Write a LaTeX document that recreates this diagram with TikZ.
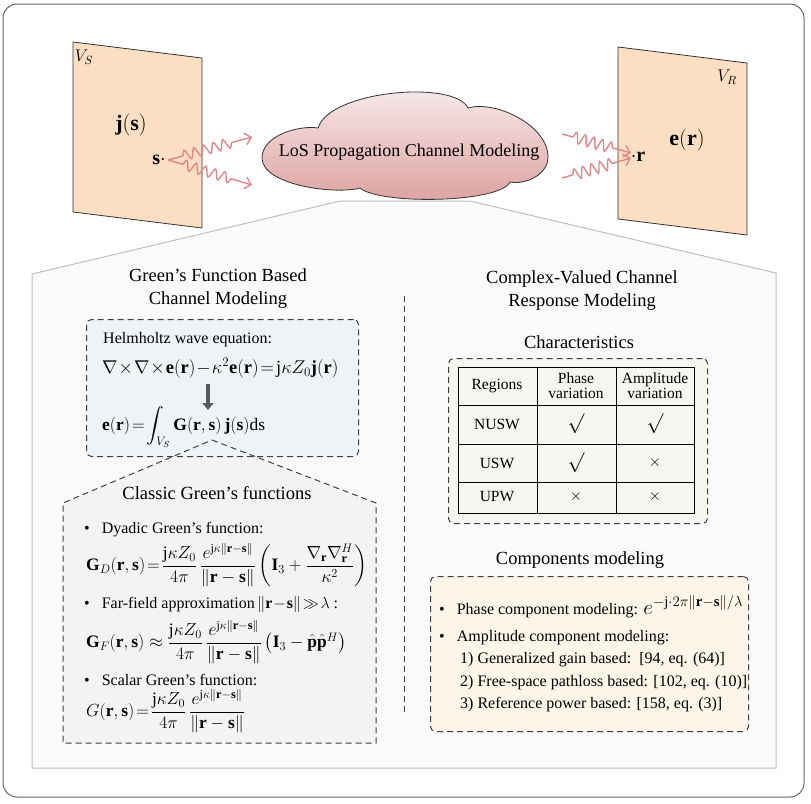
\RequirePackage{fix-cm}
\documentclass[tikz,border=0pt]{standalone}
\usepackage{amsmath,amssymb}
\usepackage{fontspec}
\setmainfont{Liberation Serif}
\usetikzlibrary{decorations.pathmorphing,arrows.meta}
\definecolor{peach}{RGB}{252,222,195}
\definecolor{wave}{RGB}{225,135,135}
\definecolor{cloudtop}{RGB}{249,238,238}
\definecolor{cloudbot}{RGB}{220,160,158}
\definecolor{helm}{RGB}{238,243,247}
\definecolor{classic}{RGB}{243,243,243}
\definecolor{charfill}{RGB}{244,246,240}
\definecolor{compfill}{RGB}{253,246,232}
\definecolor{panelfill}{RGB}{250,250,250}
\definecolor{panelline}{RGB}{190,190,190}
\definecolor{framecol}{RGB}{100,100,100}
\newcommand{\fsz}[2]{\fontsize{#1}{#2}\selectfont}
\newcommand{\vb}[1]{\mathbf{#1}}
\tikzset{
  txt/.style={inner sep=0pt, font=\fsz{16}{19}},
  eqn/.style={inner sep=0pt, font=\fsz{17.5}{20}},
  ttl/.style={inner sep=0pt, align=center, font=\fsz{18.5}{23}},
  tbl/.style={inner sep=0pt, align=center, font=\fsz{15.5}{15}},
  dbox/.style={draw=black!75, dash pattern=on 6pt off 4pt, line width=1pt, rounded corners=5pt},
  dline/.style={draw=black!75, dash pattern=on 6pt off 4pt, line width=1pt},
  plate/.style={fill=peach, draw=black!80, line width=0.8pt},
  wavy/.style={wave, line width=1.4pt, -{Straight Barb[length=6pt,width=12pt]},
    decorate, decoration={snake, amplitude=5pt, segment length=10pt, pre length=15pt, post length=18pt}},
  wavyr/.style={wavy, decoration={snake, amplitude=5.5pt, segment length=9pt, pre length=11pt, post length=15pt}},
}
\begin{document}
\begin{tikzpicture}[x=1pt,y=-1pt]
\useasboundingbox (0,0) rectangle (811,803);
\draw[framecol, line width=1pt, rounded corners=14pt] (3,4) rectangle (804,797);

% lower panel
\filldraw[fill=panelfill, draw=panelline, line width=1pt]
  (340,201) -- (470,201) -- (776,273) -- (776,768) -- (32,768) -- (32,274) -- cycle;

% plates
\filldraw[plate] (73,42) -- (202,58) -- (202,228) -- (73,212) -- cycle;
\filldraw[plate] (618,47) -- (747,63) -- (747,235) -- (618,219) -- cycle;
\node[inner sep=0pt, font=\fsz{17}{19}] (VS) at (84,57) {$V_S$};
\node[inner sep=0pt, font=\fsz{17}{19}] (VR) at (727,77) {$V_R$};
\node[inner sep=0pt, font=\fsz{22}{24}] (js) at (131,125) {$\vb{j}(\vb{s})$};
\node[inner sep=0pt, font=\fsz{22}{24}] (er) at (687,140) {$\vb{e}(\vb{r})$};
\node[inner sep=0pt, font=\fsz{20}{22}] (s) at (159,160) {$\vb{s}\cdot$};
\node[inner sep=0pt, font=\fsz{20}{22}] (r) at (638,157) {$\cdot\vb{r}$};

% cloud
\path[draw=black!80, line width=0.8pt, top color=cloudtop, bottom color=cloudbot]
  (318,128) .. controls (330,90) and (455,80) .. (468,108)
  .. controls (495,100) and (548,125) .. (548,157)
  .. controls (548,175) and (525,185) .. (510,182)
  .. controls (500,203) and (380,205) .. (360,188)
  .. controls (335,195) and (262,185) .. (262,158)
  .. controls (262,135) and (300,125) .. (318,128) -- cycle;
\node[inner sep=0pt, font=\fsz{18}{20}] (cloud) at (409,152) {LoS Propagation Channel Modeling};

% wave arrows
\coordinate (sA) at (168,160);
\coordinate (t1) at (252,137);
\coordinate (t2) at (252,185);
\coordinate (rA1) at (562,134);
\coordinate (rA2) at (562,178);
\coordinate (rT1) at (631,153);
\coordinate (rT2) at (631,158);
\draw[wavy] (sA) -- (t1);
\draw[wavy] (sA) -- (t2);
\draw[wavyr] (rA1) -- (rT1);
\draw[wavyr] (rA2) -- (rT2);

% divider
\coordinate (dv1) at (404,296);
\coordinate (dv2) at (404,712);
\draw[dline] (dv1) -- (dv2);

% headings
\node[ttl] (gh) at (218,289) {Green's Function Based\\Channel Modeling};
\node[ttl] (ch) at (582,291) {Complex-Valued Channel\\Response Modeling};

% classic pentagon fill (behind)
\fill[classic] (212,440) -- (376,503) -- (376,743) -- (63,743) -- (63,503) -- cycle;

% Helmholtz box
\node[dbox, fill=helm, minimum width=272pt, minimum height=137pt, anchor=north west, inner sep=0pt] (helmbox) at (86,319) {};
\node[txt, anchor=west] (hw) at (103,340) {Helmholtz wave equation:};
\node[inner sep=0pt, font=\fsz{18.5}{20}, anchor=west] (heq) at (102,368) {$\nabla\!\times\!\nabla\!\times\!\vb{e}(\vb{r})\!-\!\kappa^2\vb{e}(\vb{r})\!=\!\mathrm{j}\kappa Z_0\vb{j}(\vb{r})$};
\coordinate (a1) at (208,384);
\coordinate (a2) at (208,410);
\draw[line width=3.5pt, black!65, -{Triangle[length=7pt,width=11pt]}] (a1) -- (a2);
\node[eqn, anchor=west] (ieq) at (102,427) {$\vb{e}(\vb{r})\!=\!\displaystyle\int_{V_S}\vb{G}(\vb{r},\vb{s})\,\vb{j}(\vb{s})\mathrm{ds}$};

% classic pentagon outline
\draw[dline] (212,440) -- (376,503) -- (376,743) -- (63,743) -- (63,503) -- cycle;
\node[ttl] (cg) at (217,493) {Classic Green's functions};
\node[txt, anchor=west] (b1) at (84,530) {\textbullet\hspace{12pt}Dyadic Green's function:};
\node[eqn, anchor=west] (gd) at (86,565) {$\vb{G}_D(\vb{r},\vb{s})\!=\!\dfrac{\mathrm{j}\kappa Z_0}{4\pi}\,\dfrac{e^{\mathrm{j}\kappa\|\vb{r}-\vb{s}\|}}{\|\vb{r}-\vb{s}\|}\left(\vb{I}_3+\dfrac{\nabla_{\vb{r}}\nabla_{\vb{r}}^H}{\kappa^2}\right)$};
\node[txt, anchor=west] (b2) at (84,604) {\textbullet\hspace{12pt}Far-field approximation$\,\|\vb{r}\!-\!\vb{s}\|\!\gg\!\lambda$ :};
\node[eqn, anchor=west] (gf) at (86,642) {$\vb{G}_F(\vb{r},\vb{s})\approx\dfrac{\mathrm{j}\kappa Z_0}{4\pi}\,\dfrac{e^{\mathrm{j}\kappa\|\vb{r}-\vb{s}\|}}{\|\vb{r}-\vb{s}\|}\left(\vb{I}_3-\hat{\vb{p}}\hat{\vb{p}}^H\right)$};
\node[txt, anchor=west] (b3) at (84,680) {\textbullet\hspace{12pt}Scalar Green's function:};
\node[eqn, anchor=west] (gs) at (86,711) {$G(\vb{r},\vb{s})\!=\!\dfrac{\mathrm{j}\kappa Z_0}{4\pi}\,\dfrac{e^{\mathrm{j}\kappa\|\vb{r}-\vb{s}\|}}{\|\vb{r}-\vb{s}\|}$};

% characteristics
\node[ttl] (chr) at (579,342) {Characteristics};
\node[dbox, fill=charfill, minimum width=259pt, minimum height=165pt, anchor=north west, inner sep=0pt] (charbox) at (448,358) {};
\draw[black, line width=1pt] (458,367) rectangle (694,513);
\draw[black, line width=1pt] (458,405) -- (694,405) (458,444) -- (694,444) (458,482) -- (694,482)
  (537,367) -- (537,513) (616,367) -- (616,513);
\node[tbl] (h1) at (497,386) {Regions};
\node[tbl] (h2) at (576,386) {Phase\\variation};
\node[tbl] (h3) at (655,386) {Amplitude\\variation};
\node[tbl] (r1) at (497,424) {NUSW};
\node[tbl] (r2) at (497,463) {USW};
\node[tbl] (r3) at (497,497) {UPW};
\node[tbl, font=\fsz{20}{20}] (c11) at (576,424) {$\surd$};
\node[tbl, font=\fsz{20}{20}] (c12) at (655,424) {$\surd$};
\node[tbl, font=\fsz{20}{20}] (c21) at (576,463) {$\surd$};
\node[tbl] (c22) at (655,463) {$\times$};
\node[tbl] (c31) at (576,497) {$\times$};
\node[tbl] (c32) at (655,497) {$\times$};

% components
\node[ttl] (cm) at (580,560) {Components modeling};
\node[dbox, fill=compfill, minimum width=318pt, minimum height=155pt, anchor=north west, inner sep=0pt] (compbox) at (430,576) {};
\node[txt, anchor=west] (p1) at (439,607) {\textbullet\hspace{12pt}Phase component modeling: {\fsz{21}{22}$e^{-\mathrm{j}\cdot 2\pi\|\vb{r}-\vb{s}\|/\lambda}$}};
\node[txt, anchor=west] (p2) at (439,638) {\textbullet\hspace{12pt}Amplitude component modeling:};
\node[txt, anchor=west] (p3) at (460,660) {1) Generalized gain based:\ \ [94, eq. (64)]};
\node[txt, anchor=west] (p4) at (460,683) {2) Free-space pathloss based: [102, eq. (10)]};
\node[txt, anchor=west] (p5) at (460,705) {3) Reference power based: [158, eq. (3)]};
\end{tikzpicture}
\end{document}
